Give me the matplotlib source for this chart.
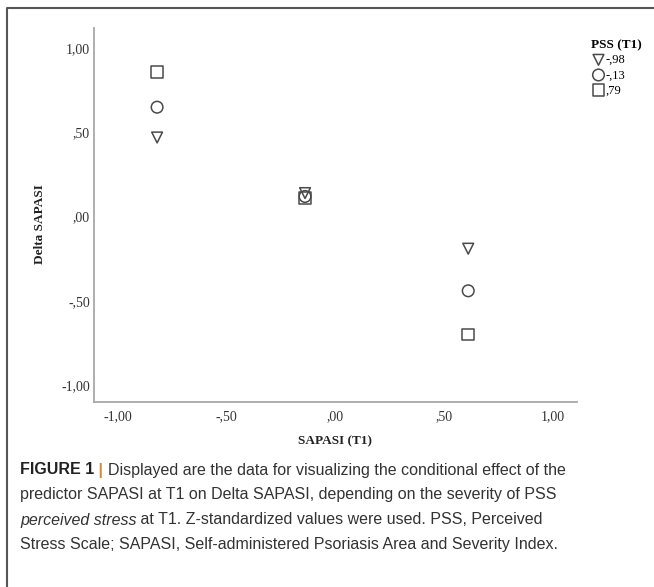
import matplotlib
matplotlib.use("Agg")
import matplotlib.pyplot as plt
from matplotlib.lines import Line2D

# ---- data ----
sapasi_t1 = [-0.82, -0.14, 0.61]
pss_levels = ["-,98", "-,13", ",79"]
delta_low = [0.47, 0.14, -0.19]    # PSS -,98 (triangle)
delta_mid = [0.65, 0.12, -0.44]    # PSS -,13 (circle)
delta_high = [0.86, 0.11, -0.70]   # PSS ,79 (square)
tick_values = [-1.0, -0.5, 0.0, 0.5, 1.0]
tick_labels = ["-1,00", "-,50", ",00", ",50", "1,00"]

W, H = 654, 587
fig = plt.figure(figsize=(W / 100, H / 100), dpi=100)
fig.patch.set_facecolor("white")

ax = fig.add_axes([94 / W, 1 - 402 / H, (577 - 94) / W, (402 - 28) / H])
ax.set_xlim(-1.11, 1.11)
ax.set_ylim(-1.10, 1.12)

serif = ["Liberation Serif", "DejaVu Serif"]
mcol = "#4a4a4a"
series = [(delta_low, "v", 60), (delta_mid, "o", 70), (delta_high, "s", 70)]
handles = []
for vals, m, s in series:
    h = ax.scatter(sapasi_t1, vals, marker=m, s=s, facecolors="none",
                   edgecolors=mcol, linewidths=1.1, zorder=3)
    handles.append(h)

for sp in ["top", "right"]:
    ax.spines[sp].set_visible(False)
for sp in ["left", "bottom"]:
    ax.spines[sp].set_color("#a8a8a8")
    ax.spines[sp].set_linewidth(1.3)

ax.set_xticks(tick_values)
ax.set_xticklabels(tick_labels)
ax.set_yticks(tick_values)
ax.set_yticklabels(tick_labels)
ax.tick_params(axis="both", length=0, labelsize=10, labelcolor="#333333")
ax.tick_params(axis="x", pad=6)
ax.tick_params(axis="y", pad=3)
for lbl in ax.get_xticklabels() + ax.get_yticklabels():
    lbl.set_family(serif)

fig.text(335 / W, 1 - 441 / H, "SAPASI (T1)", family=serif, fontweight="bold",
         fontsize=9.5, ha="center", va="center", color="#222222")
fig.text(40 / W, 1 - 224 / H, "Delta SAPASI", family=serif, fontweight="bold",
         fontsize=9.5, ha="center", va="center", rotation=90, color="#222222")

leg = ax.legend(handles, pss_levels, title="PSS (T1)", loc="upper left",
                bbox_to_anchor=(586 / W, 1 - 34 / H), bbox_transform=fig.transFigure,
                frameon=False, handletextpad=0.0, labelspacing=0.25,
                borderaxespad=0, handlelength=1.2, prop={"family": serif, "size": 9})
leg.get_title().set_fontweight("bold")
leg.get_title().set_family(serif)
leg.get_title().set_fontsize(9.5)
leg._legend_box.align = "left"

# outer frame (top & left)
fig.add_artist(Line2D([7 / W, 7 / W, 1.0], [0.0, 1 - 8 / H, 1 - 8 / H],
                      transform=fig.transFigure, color="#555555", lw=1.5))

caption_lines = [
    ("FIGURE 1 | ", "Displayed are the data for visualizing the conditional effect of the"),
    ("", "predictor SAPASI at T1 on Delta SAPASI, depending on the severity of PSS"),
    ("", None),
    ("", "Stress Scale; SAPASI, Self-administered Psoriasis Area and Severity Index."),
]
sans = ["Liberation Sans", "DejaVu Sans"]
fs = 11.5
y0, dy = 470, 25
renderer = fig.canvas.get_renderer()
for i, (bold, rest) in enumerate(caption_lines):
    y = 1 - (y0 + i * dy) / H
    x = 20 / W
    if i == 2:
        t = fig.text(x, y, "perceived stress", family=sans, style="italic",
                     fontsize=fs, va="center", color="#333333")
        bb = t.get_window_extent(renderer)
        fig.text(bb.x1 / W, y, " at T1. Z-standardized values were used. PSS, Perceived",
                 family=sans, fontsize=fs, va="center", color="#333333")
        continue
    if bold:
        t = fig.text(x, y, "FIGURE 1", family=sans, fontweight="bold",
                     fontsize=fs, va="center", color="#222222")
        bb = t.get_window_extent(renderer)
        t2 = fig.text(bb.x1 / W, y, " | ", family=sans, fontweight="bold",
                      fontsize=fs, va="center", color="#d08a3a")
        bb = t2.get_window_extent(renderer)
        x = bb.x1 / W
    fig.text(x, y, rest, family=sans, fontsize=fs, va="center", color="#333333")

fig.savefig("out.png", dpi=100, facecolor="white")
